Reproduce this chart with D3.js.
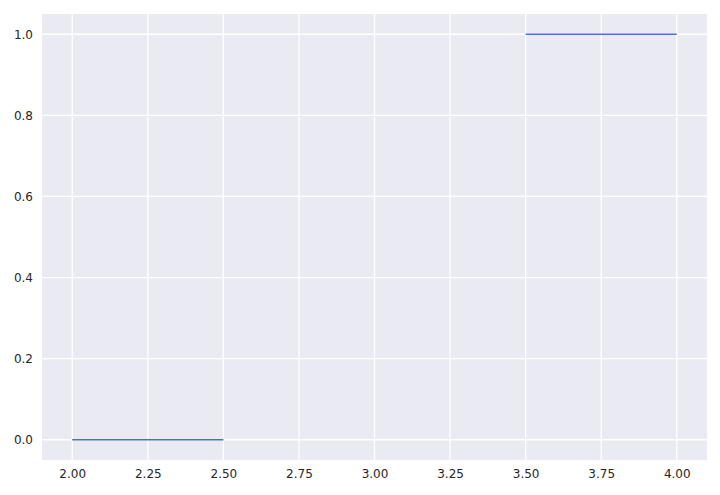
<!DOCTYPE html>
<html>
<head>
<meta charset="utf-8">
<script src="https://cdn.jsdelivr.net/npm/d3@7"></script>
<style>
  body { margin: 0; background: #fff; }
  svg text { font-family: "DejaVu Sans", sans-serif; font-size: 12px; fill: #262626; }
</style>
</head>
<body>
<div class="canvas"></div>
<script>
// two step segments
const segLow = [{ x: 2.0, y: 0 }, { x: 2.5, y: 0 }];
const segHigh = [{ x: 3.5, y: 1 }, { x: 4.0, y: 1 }];
const segColors = ["#4c72b0", "#4a76c8"];
const xTicks = [2.0, 2.25, 2.5, 2.75, 3.0, 3.25, 3.5, 3.75, 4.0];
const yTicks = [0.0, 0.2, 0.4, 0.6, 0.8, 1.0];

const dims = { width: 720, height: 495 };
const margin = { left: 42, right: 13, top: 14, bottom: 35 };
const w = dims.width - margin.left - margin.right;
const h = dims.height - margin.top - margin.bottom;

const svg = d3.select('.canvas').append('svg')
  .attr('width', dims.width)
  .attr('height', dims.height);

const graph = svg.append('g')
  .attr('transform', `translate(${margin.left}, ${margin.top})`);

const x = d3.scaleLinear().domain([1.9, 4.1]).range([0, w]);
const y = d3.scaleLinear().domain([-0.05, 1.05]).range([h, 0]);

graph.append('rect')
  .attr('width', w)
  .attr('height', h)
  .attr('fill', '#eaeaf2');

// grid
graph.append('g').selectAll('line').data(xTicks).enter().append('line')
  .attr('x1', d => x(d)).attr('x2', d => x(d))
  .attr('y1', 0).attr('y2', h)
  .attr('stroke', '#fff').attr('stroke-width', 1.3);
graph.append('g').selectAll('line').data(yTicks).enter().append('line')
  .attr('y1', d => y(d)).attr('y2', d => y(d))
  .attr('x1', 0).attr('x2', w)
  .attr('stroke', '#fff').attr('stroke-width', 1.3);

// axes, no tick marks
const xAxis = graph.append('g')
  .attr('transform', `translate(0, ${h})`)
  .call(d3.axisBottom(x).tickValues(xTicks).tickFormat(d3.format('.2f')).tickSize(0).tickPadding(9));
const yAxis = graph.append('g')
  .call(d3.axisLeft(y).tickValues(yTicks).tickFormat(d3.format('.1f')).tickSize(0).tickPadding(9));
[xAxis, yAxis].forEach(a => {
  a.select('.domain').remove();
  a.selectAll('text').attr('font-size', null).attr('font-family', null).attr('fill', null);
});

const line = d3.line().x(d => x(d.x)).y(d => y(d.y));
[segLow, segHigh].forEach((seg, i) => {
  graph.append('path')
    .datum(seg)
    .attr('d', line)
    .attr('fill', 'none')
    .attr('stroke', segColors[i])
    .attr('stroke-width', 1.5);
});
</script>
</body>
</html>
